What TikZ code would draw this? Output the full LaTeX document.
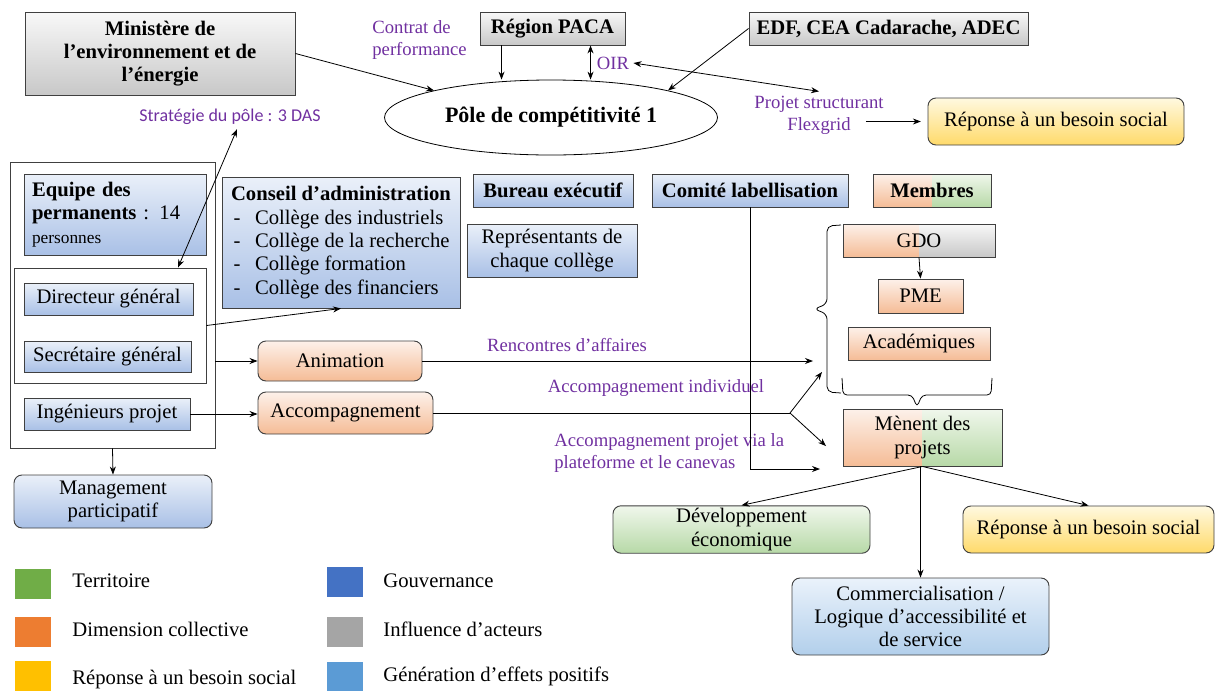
\documentclass[tikz,border=0pt]{standalone}
\usepackage{fontspec}
\setmainfont{Liberation Serif}
\newfontfamily\carlito{Carlito}
\usetikzlibrary{arrows.meta,shapes.geometric}

\definecolor{bluetop}{HTML}{EAF0F9}
\definecolor{bluebot}{HTML}{A9C0E6}
\definecolor{ortop}{HTML}{FDF1EA}
\definecolor{orbot}{HTML}{F5BC96}
\definecolor{grtop}{HTML}{F0F7EC}
\definecolor{grbot}{HTML}{B7D9A7}
\definecolor{yetop}{HTML}{FFF9E0}
\definecolor{yebot}{HTML}{FFDA6A}
\definecolor{grytop}{HTML}{F8F8F8}
\definecolor{grybot}{HTML}{C8C8C8}
\definecolor{ltbtop}{HTML}{EAF2FB}
\definecolor{ltbbot}{HTML}{B2CFEB}
\definecolor{lblpurple}{HTML}{7030A0}
\definecolor{legGreen}{HTML}{70AD47}
\definecolor{legOrange}{HTML}{ED7D31}
\definecolor{legYellow}{HTML}{FFC000}
\definecolor{legBlue}{HTML}{4472C4}
\definecolor{legGray}{HTML}{A5A5A5}
\definecolor{legLight}{HTML}{5B9BD5}

\newcommand\tiret{\makebox[18pt][l]{\hspace{2pt}-}}

\tikzset{
  box/.style={draw=black!75, line width=0.7pt, inner sep=2pt, align=center,
    font=\fontsize{15.5}{17.5}\selectfont},
  boldfont/.style={font=\fontsize{15.5}{17.5}\selectfont\bfseries},
  plainbox/.style={draw=black!75, line width=0.7pt, inner sep=0pt},
  bluebox/.style={box, top color=bluetop, bottom color=bluebot},
  orangebox/.style={box, top color=ortop, bottom color=orbot},
  greenbox/.style={box, top color=grtop, bottom color=grbot},
  yellowbox/.style={box, top color=yetop, bottom color=yebot},
  graybox/.style={box, top color=grytop, bottom color=grybot},
  lightbluebox/.style={box, top color=ltbtop, bottom color=ltbbot},
  twotone/.style n args={4}{box, path picture={
      \shade[top color=#1, bottom color=#2] (path picture bounding box.south west) rectangle (path picture bounding box.north);
      \shade[top color=#3, bottom color=#4] (path picture bounding box.south) rectangle (path picture bounding box.north east);}},
  lbl/.style={text=lblpurple, inner sep=3pt, font=\fontsize{14}{16.5}\selectfont},
  legsq/.style={minimum width=27pt, minimum height=22.5pt, inner sep=0pt},
  legtxt/.style={anchor=west, inner sep=0pt, font=\fontsize{15.5}{17.5}\selectfont}
}

\begin{document}
\begin{tikzpicture}[x=0.75pt,y=-0.75pt,line width=0.6pt,>={Stealth[length=6pt,width=4.5pt]}]
  \useasboundingbox (0,0) rectangle (1216,690);

  % acteurs en haut
  \node[graybox, boldfont, minimum width=202.5pt, minimum height=62.25pt] (ministere) at (160,53.5) {Ministère de\\ l’environnement et de\\ l’énergie};
  \node[graybox, boldfont, minimum width=108.75pt, minimum height=24.75pt] (region) at (552.5,28.5) {Région PACA};
  \node[graybox, boldfont, minimum width=209.25pt, minimum height=24.75pt] (edf) at (888.5,28.5) {EDF, CEA Cadarache, ADEC};
  \node[draw, ellipse, line width=0.6pt, minimum width=249.75pt, minimum height=56.25pt, inner sep=0pt,
        font=\fontsize{16.5}{19}\selectfont\bfseries] (pole) at (551,117.5) {Pôle de compétitivité 1};
  \node[yellowbox, rounded corners=6pt, minimum width=192pt, minimum height=35.25pt] (besoin1) at (1056,121.5) {Réponse à un besoin social};

  \node[lbl, anchor=west, align=left] (contrat) at (368,40) {Contrat de\\ performance};
  \node[lbl] (oir) at (613,63) {OIR};
  \node[lbl, align=center] (projet) at (819,115) {Projet structurant\\ Flexgrid};
  \node[lbl, font=\carlito\fontsize{13.5}{16}\selectfont] (strategie) at (230,117) {Stratégie du pôle~: 3 DAS};

  % equipe des permanents
  \node[plainbox, minimum width=153.75pt, minimum height=214.5pt] (staff) at (112.5,305) {};
  \node[bluebox, align=left, text width=124.5pt, inner xsep=6pt, inner ysep=3pt, minimum height=60.75pt] (equipe) at (115,214.5)
    {\textbf{Equipe des}\\ \textbf{permanents} : 14\\ {\fontsize{13}{15}\selectfont personnes}};
  \node[plainbox, minimum width=144pt, minimum height=86.25pt] (inner) at (110,325.5) {};
  \node[bluebox, minimum width=126.75pt, minimum height=24pt] (directeur) at (108.5,299) {Directeur général};
  \node[bluebox, minimum width=125.25pt, minimum height=23.25pt] (secretaire) at (107.5,356.5) {Secrétaire général};
  \node[bluebox, minimum width=124.5pt, minimum height=24pt] (ingenieurs) at (107,414) {Ingénieurs projet};
  \node[bluebox, rounded corners=6pt, minimum width=148.5pt, minimum height=39.75pt] (management) at (113,501.5) {Management\\ participatif};

  % gouvernance
  \node[bluebox, align=left, minimum width=178.5pt, minimum height=98.25pt] (conseil) at (341,242.5)
    {\textbf{Conseil d’administration}\\ \tiret Collège des industriels\\ \tiret Collège de la recherche\\ \tiret Collège formation\\ \tiret Collège des financiers};
  \node[bluebox, boldfont, minimum width=120pt, minimum height=24.75pt] (bureau) at (553,190.5) {Bureau exécutif};
  \node[bluebox, minimum width=127.5pt, minimum height=39.75pt] (representants) at (552,250.5) {Représentants de\\ chaque collège};
  \node[bluebox, boldfont, minimum width=147pt, minimum height=24.75pt] (comite) at (750,190.5) {Comité labellisation};

  % membres
  \node[twotone={ortop}{orbot}{grtop}{grbot}, boldfont, minimum width=88.5pt, minimum height=24.75pt] (membres) at (932,190.5) {Membres};
  \node[twotone={ortop}{orbot}{grytop}{grybot}, minimum width=114pt, minimum height=24.75pt] (gdo) at (919,240.5) {GDO};
  \node[orangebox, minimum width=63.75pt, minimum height=25.5pt] (pme) at (920.5,296) {PME};
  \node[orangebox, minimum width=106.5pt, minimum height=24.75pt] (academiques) at (919,343.5) {Académiques};
  \node[twotone={ortop}{orbot}{grtop}{grbot}, minimum width=119.25pt, minimum height=42.75pt] (menent) at (922.5,437.5) {Mènent des\\ projets};

  % actions
  \node[orangebox, rounded corners=6pt, minimum width=123pt, minimum height=30pt] (animation) at (340,361) {Animation};
  \node[orangebox, rounded corners=6pt, minimum width=131.25pt, minimum height=31.5pt] (accomp) at (345.5,413) {Accompagnement};
  \node[lbl] (rencontres) at (567,345) {Rencontres d’affaires};
  \node[lbl] (individuel) at (656,388) {Accompagnement individuel};
  \node[lbl, anchor=west, align=left] (plateforme) at (550,452.5) {Accompagnement projet via la\\ plateforme et le canevas};

  % effets
  \node[greenbox, rounded corners=6pt, minimum width=192.75pt, minimum height=35.25pt] (developpement) at (741.5,529.5) {Développement\\ économique};
  \node[yellowbox, rounded corners=6pt, minimum width=188.25pt, minimum height=35.25pt] (besoin2) at (1088.5,529.5) {Réponse à un besoin social};
  \node[lightbluebox, rounded corners=6pt, minimum width=192.75pt, minimum height=57.75pt] (commerce) at (920.5,616.5) {Commercialisation /\\ Logique d’accessibilité et\\ de service};

  \coordinate (rencTip) at (813,361);
  \coordinate (split) at (790,413);
  \coordinate (indivTip) at (822,372);
  \coordinate (projTip) at (826,446);
  \coordinate (labTip) at (820,469);

  % fleches
  \draw[->] (ministere.east) -- (pole.167);
  \draw[->] ([xshift=16.5pt]region.south west) -- ([xshift=16.5pt]region.south west |- pole.north);
  \draw[<->] ([xshift=83.25pt]region.south west) -- ([xshift=83.25pt]region.south west |- pole.north);
  \draw[->] (edf.west) -- (pole.13);
  \draw[<->] (oir.east) -- (projet.north);
  \draw[->, shorten >=5pt] ([xshift=-16.5pt]projet.east |- besoin1.west) -- (besoin1.west);
  \draw[<->] ([xshift=5.25pt]strategie.south) -- ([xshift=51pt]inner.north);
  \draw[->] (staff.south) -- (management.north);
  \draw[->] (inner.east) -- (conseil.south);
  \draw[->] (staff.east |- animation.west) -- (animation.west);
  \draw[->] (ingenieurs.east) -- (ingenieurs.east -| accomp.west);
  \draw[->] (animation.east) -- (rencTip);
  \draw (accomp.east) -- (split);
  \draw[->] (split) -- (indivTip);
  \draw[->] (split) -- (projTip);
  \draw[->] (comite.south) -- (comite.south |- labTip) -- (labTip);
  \draw[->] (gdo.south) -- (pme.north);
  \draw[->] (menent.south) -- (developpement.north);
  \draw[->] (commerce.north |- menent.south) -- (commerce.north);
  \draw[->] (menent.south) -- (besoin2.north);

  % accolades
  \draw[rounded corners=4pt] (841,225) -- (827,226) -- (827,304) -- (814,309) -- (827,314) -- (827,392) -- (841,393);
  \draw[rounded corners=3pt] (842,378) -- (843,395) -- (912,395) -- (917,407) -- (922,395) -- (991,395) -- (992,378);

  % legende
  \node[legsq, fill=legGreen] (sqTerr) at (33,584) {};
  \node[legtxt] (txtTerr) at (72,581) {Territoire};
  \node[legsq, fill=legOrange] (sqColl) at (33,632) {};
  \node[legtxt] (txtColl) at (72,629) {Dimension collective};
  \node[legsq, fill=legYellow] (sqSoc) at (33,676) {};
  \node[legtxt] (txtSoc) at (72,679) {Réponse à un besoin social};
  \node[legsq, fill=legBlue] (sqGouv) at (345,582) {};
  \node[legtxt] (txtGouv) at (383,581) {Gouvernance};
  \node[legsq, fill=legGray] (sqInfl) at (345,631.5) {};
  \node[legtxt] (txtInfl) at (383,629) {Influence d’acteurs};
  \node[legsq, fill=legLight] (sqGen) at (345,677) {};
  \node[legtxt] (txtGen) at (383,676) {Génération d’effets positifs};
\end{tikzpicture}
\end{document}
